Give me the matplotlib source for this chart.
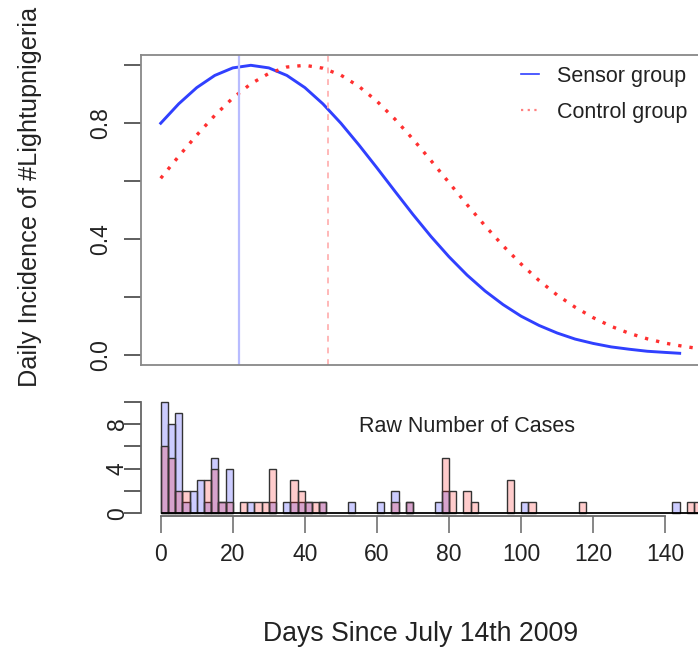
import matplotlib
matplotlib.use("Agg")
import matplotlib.pyplot as plt
from matplotlib.lines import Line2D

plt.rcParams['font.family'] = ['Liberation Sans', 'DejaVu Sans']

# fitted daily incidence curves, every 5 days
days = [0, 5, 10, 15, 20, 25, 30, 35, 40, 45, 50, 55, 60, 65, 70, 75, 80,
        85, 90, 95, 100, 105, 110, 115, 120, 125, 130, 135, 140]
sensor_curve = [0.800, 0.867, 0.923, 0.965, 0.991, 1.000, 0.991, 0.965, 0.923,
                0.867, 0.800, 0.725, 0.646, 0.565, 0.485, 0.409, 0.339, 0.276,
                0.221, 0.174, 0.134, 0.102, 0.076, 0.055, 0.040, 0.028, 0.020,
                0.013, 0.009]
control_curve = [0.610, 0.686, 0.759, 0.827, 0.887, 0.936, 0.972, 0.994, 1.000,
                 0.990, 0.966, 0.927, 0.876, 0.814, 0.745, 0.671, 0.595, 0.519,
                 0.446, 0.377, 0.314, 0.257, 0.207, 0.165, 0.129, 0.099, 0.075,
                 0.056, 0.041]
sensor_tail_days = [144]
sensor_tail = [0.006]
control_tail_days = [145, 150, 155]
control_tail = [0.030, 0.021, 0.015]

sensor_mean = 21.7
control_mean = 46.3

# raw case counts, 2-day bins (left edge of bin)
sensor_bins = [0, 2, 4, 6, 8, 10, 12, 14, 16, 18, 24, 30, 34, 36, 38, 40, 44,
               52, 60, 64, 68, 76, 78, 100, 142]
sensor_counts = [10, 8, 9, 1, 2, 3, 1, 5, 1, 4, 1, 1, 1, 1, 1, 1, 1,
                 1, 1, 2, 1, 1, 2, 1, 1]
control_bins = [0, 2, 4, 6, 12, 14, 16, 18, 22, 26, 28, 30, 36, 38, 40, 42, 44,
                64, 68, 78, 80, 84, 86, 96, 102, 116, 146, 148]
control_counts = [6, 5, 2, 2, 3, 4, 1, 1, 1, 1, 1, 4, 3, 2, 1, 1, 1,
                  1, 1, 5, 2, 2, 1, 3, 1, 1, 1, 1]
bin_width = 2

blue = '#3040ff'
red = '#ff3030'
fs = 15.5
tfs = 16.5

fig = plt.figure(figsize=(6.98, 6.48), dpi=100)
xlim = (-5.55, 156)

# ---- top panel
ax1 = fig.add_axes([0.2016, 0.4367, 0.8341, 0.4789])
ax1.plot(days + sensor_tail_days, sensor_curve + sensor_tail, color=blue, lw=2.1)
ax1.plot(days + control_tail_days, control_curve + control_tail, color=red,
         lw=2.4, linestyle=(0, (1, 2.4)))
ax1.axvline(sensor_mean, color='#b8bcff', lw=1.6)
ax1.axvline(control_mean, color='#ffb8b8', lw=1.4, linestyle=(0, (3, 3)))
ax1.set_xlim(*xlim)
ax1.set_ylim(-0.0345, 1.0366)
ax1.set_xticks([])
ax1.set_yticks([0, 0.2, 0.4, 0.6, 0.8, 1.0])
ax1.set_yticklabels(['0.0', '', '0.4', '', '0.8', ''], rotation=90, va='center')
ax1.tick_params(axis='y', length=12.5, width=1.1, color='#333333', pad=8,
                labelsize=tfs, labelcolor='#222222')
for s in ax1.spines.values():
    s.set_color('#888888')
    s.set_linewidth(1.3)

handles = [Line2D([], [], color=blue, lw=1.2),
           Line2D([], [], color='#ff8080', lw=1.6, linestyle=(0, (1, 2)))]
fig.legend(handles, ['Sensor group', 'Control group'], loc='upper left',
           bbox_to_anchor=(521 / 698, 1 - 66 / 648), frameon=False,
           fontsize=fs, handlelength=0.85, handletextpad=0.8,
           labelspacing=0.69, borderpad=0, borderaxespad=0, labelcolor='#222222')

# ---- bottom panel
ax2 = fig.add_axes([0.2016, 0.2035, 0.8341, 0.1835])
ax2.bar(sensor_bins, sensor_counts, width=bin_width, align='edge',
        color=(0, 0, 1, 0.2), edgecolor='#333333', linewidth=1.0)
ax2.bar(control_bins, control_counts, width=bin_width, align='edge',
        color=(1, 0, 0, 0.2), edgecolor='#333333', linewidth=1.0)
ax2.hlines(0, 0, 160, color='black', lw=1.3)
ax2.text(85, 7.8, 'Raw Number of Cases', fontsize=fs, ha='center',
         va='center', color='#222222')
ax2.set_xlim(*xlim)
ax2.set_ylim(-0.25, 10.4)
for side in ['top', 'right']:
    ax2.spines[side].set_visible(False)
ax2.spines['left'].set_bounds(0, 10)
ax2.spines['bottom'].set_bounds(0, 140)
for side in ['left', 'bottom']:
    ax2.spines[side].set_color('#666666')
    ax2.spines[side].set_linewidth(1.3)
ax2.set_yticks([0, 2, 4, 6, 8, 10])
ax2.set_yticklabels(['0', '', '4', '', '8', ''], rotation=90, va='center')
ax2.set_xticks(range(0, 141, 20))
ax2.tick_params(axis='y', length=12.5, width=1.1, color='#333333', pad=-4,
                labelsize=tfs, labelcolor='#222222')
ax2.tick_params(axis='x', length=12, width=1.1, color='#666666', pad=7,
                labelsize=tfs, labelcolor='#222222')

fig.text(30 / 698, 1 - 197 / 648, 'Daily Incidence of #Lightupnigeria',
         rotation=90, ha='center', va='center', fontsize=18.2, color='#222222')
fig.text(421 / 698, 1 - 634 / 648, 'Days Since July 14th 2009',
         ha='center', va='center', fontsize=19.2, color='#222222')

fig.savefig('out.png', dpi=100)
